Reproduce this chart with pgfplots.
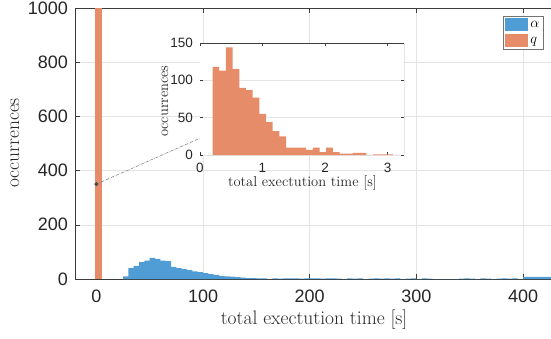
\documentclass[border=0pt]{standalone}
\usepackage{fontspec}
\usepackage{pgfplots}
\pgfplotsset{compat=1.18}
\newfontfamily\tickfont{Liberation Sans}
\definecolor{hblue}{RGB}{80,157,213}
\definecolor{horange}{RGB}{230,140,105}
\definecolor{gridc}{RGB}{228,228,228}
\definecolor{axc}{RGB}{60,60,60}
\begin{document}
\begin{tikzpicture}[x=1pt,y=1pt]
\path[use as bounding box] (0,0) rectangle (551,338);
\clip (0,0) rectangle (551,338);
% ---------------- main axis ----------------
\begin{axis}[
  at={(75pt,59pt)}, anchor=south west,
  scale only axis, width=485pt, height=271pt,
  xmin=-20, xmax=434.6, ymin=0, ymax=1000,
  xtick={0,100,200,300,400}, ytick={0,200,400,600,800,1000},
  /pgf/number format/assume math mode=true,
  /pgf/number format/1000 sep={},
  ticklabel style={font=\tickfont\fontsize{18}{18}\selectfont, inner sep=0pt, text=black!85},
  xticklabel shift=11pt, yticklabel shift=7pt,
  tick align=inside, major tick length=5pt,
  tick style={axc, line width=0.5pt},
  axis line style={axc, line width=0.6pt},
  grid=major, grid style={gridc, line width=0.5pt},
  xlabel={total exectution time [s]}, ylabel={occurrences},
  label style={font=\fontsize{19.5}{20}\selectfont, text=black!85},
  xlabel style={at={(axis description cs:0.493,-0.151)}, anchor=center},
  ylabel style={at={(axis description cs:-0.124,0.502)}, anchor=center, rotate=0},
  legend style={at={(0.8825,0.9705)}, anchor=north west, draw=black!55, line width=0.5pt,
    font=\fontsize{15}{15}\selectfont, inner sep=2pt, row sep=3pt,
    /tikz/every even column/.append style={column sep=3pt}},
  legend cell align=left,
  legend image code/.code={\fill[#1] (0pt,-6.5pt) rectangle (23pt,6.5pt);},
]
\addplot[ybar interval, fill=hblue, draw=none] coordinates {
(25,10) (30,40) (35,48) (40,62) (45,68) (50,78) (55,74) (60,68) (65,66) (70,45)
(75,40) (80,36) (85,33) (90,28) (95,25) (100,22) (105,18) (110,15) (115,12) (120,10)
(125,9) (130,7) (135,5) (140,3) (145,3) (150,2) (155,2) (160,0) (165,2) (170,1)
(175,2) (180,2) (185,2) (190,1) (195,2) (200,2) (205,2) (210,1) (215,2) (220,2)
(225,1) (230,0) (235,2) (240,1) (245,2) (250,0) (255,1) (260,2) (265,1) (270,2)
(275,1) (280,2) (285,0) (290,1) (295,2) (300,0) (305,2) (310,1) (315,0) (320,0)
(325,0) (330,0) (335,0) (340,1) (345,2) (350,1) (355,0) (360,2) (365,1) (370,0)
(375,1) (380,2) (385,1) (390,2) (395,0) (400,8) (445,8)};
\addlegendentry{$\alpha$}
\addplot[ybar interval, fill=horange, draw=none] coordinates {(-1,1000) (5,1000)};
\addlegendentry{$q$}
\addplot[forget plot, black!55, densely dash dot, line width=0.5pt] coordinates {(0,350) (97.5,520)};
\addplot[forget plot, only marks, mark=*, mark size=1.8pt, mark options={fill=black!70, draw=black!70}] coordinates {(0,350)};
\end{axis}
% ---------------- inset axis ----------------
\begin{axis}[
  at={(200pt,183pt)}, anchor=south west,
  scale only axis, width=204pt, height=112pt,
  xmin=0, xmax=3.264, ymin=0, ymax=150,
  xtick={0,1,2,3}, ytick={0,50,100,150},
  axis background/.style={fill=white},
  /pgf/number format/assume math mode=true,
  ticklabel style={font=\tickfont\fontsize{13.5}{14}\selectfont, inner sep=0pt, text=black!85},
  xticklabel shift=8pt, yticklabel shift=7pt,
  tick align=inside, major tick length=3pt,
  tick style={axc, line width=0.5pt},
  axis line style={draw=none},
  ymajorgrids, grid style={gridc, line width=0.5pt},
  xlabel={total exectution time [s]}, ylabel={occurrences},
  label style={font=\fontsize{14.5}{15}\selectfont, text=black!85},
  xlabel style={at={(axis description cs:0.502,-0.25)}, anchor=center},
  ylabel style={at={(axis description cs:-0.1716,0.48)}, anchor=center},
]
\addplot[ybar interval, fill=horange, draw=none] coordinates {
(0.200,118) (0.307,113) (0.414,144) (0.521,115) (0.628,90) (0.735,87) (0.842,77)
(0.949,55) (1.056,44) (1.163,32) (1.270,25) (1.377,10) (1.484,10) (1.591,10)
(1.698,7) (1.805,10) (1.912,4) (2.019,10) (2.126,4) (2.233,2) (2.340,2)
(2.447,3) (2.554,3) (2.661,0) (2.768,1) (2.875,1) (2.982,1) (3.089,1)};
\draw[axc, line width=0.6pt] (rel axis cs:0,1) -- (rel axis cs:1,1) -- (rel axis cs:1,0);
\end{axis}
\end{tikzpicture}
\end{document}
